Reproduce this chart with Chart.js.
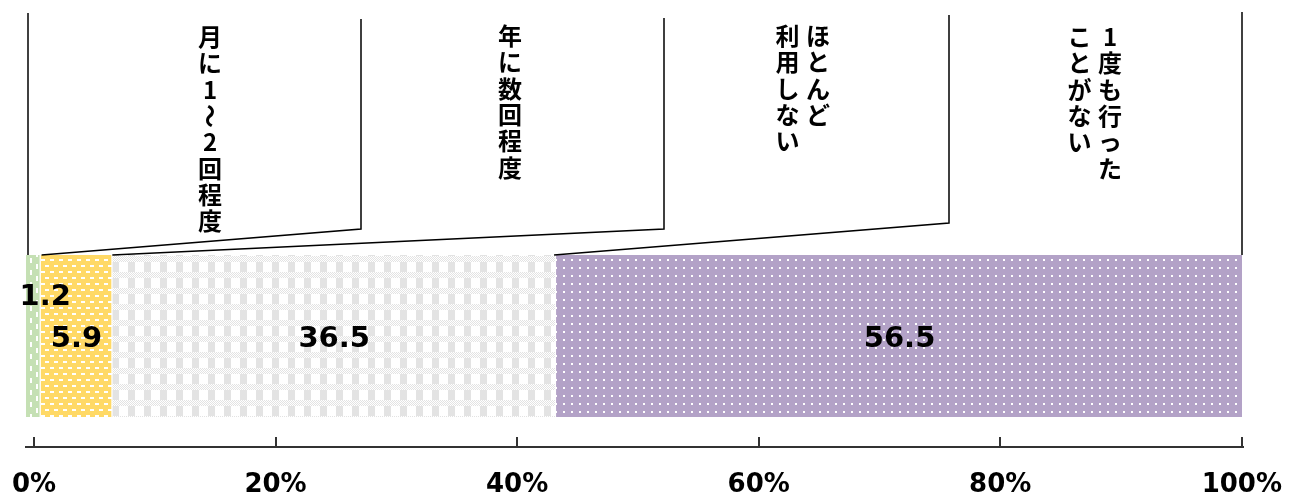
<!DOCTYPE html>
<html lang="ja">
<head>
<meta charset="utf-8">
<title>利用頻度</title>
<script src="https://cdn.jsdelivr.net/npm/chart.js@4.4.1/dist/chart.umd.min.js"></script>
<style>
  html, body { margin: 0; padding: 0; background: #fff; }
  #wrap { position: relative; width: 1301px; height: 498px; }
</style>
</head>
<body>
<div id="wrap"><canvas id="freqChart"></canvas></div>
<script>
/* -------------------- DATA -------------------- */
const categories = ["月に1～2回程度", "年に数回程度", "ほとんど利用しない", "1度も行ったことがない"];
const categoryColumns = [["月に1～2回程度"], ["年に数回程度"], ["ほとんど", "利用しない"], ["1度も行った", "ことがない"]];
const values = [1.2, 5.9, 36.5, 56.5];
const tickValues = [0, 20, 40, 60, 80, 100];

/* -------------------- LAYOUT -------------------- */
// leader lines: top of the bracket, knee, then down to the segment edge on the bar
const leaders = [
  { x: 28, top: 13, knee: 253, dx: 2 },
  { x: 361, top: 19, knee: 229, dx: 1 },
  { x: 664, top: 18, knee: 229, dx: 0 },
  { x: 949, top: 15, knee: 223, dx: -2 },
  { x: 1242, top: 12, knee: 253, dx: -1 }
];
const labelPos = [
  { x: 210, y: 37 },
  { x: 510, y: 36 },
  { x: 818, y: 36 },
  { x: 1110, y: 37 }
];
const CHAR_STEP = 26.3;
const COL_GAP = 30.5;
const valueOffsets = [{ dx: 12, dy: -39 }, { dx: 0, dy: 3 }, { dx: 0, dy: 3 }, { dx: 0, dy: 3 }];

/* -------------------- PATTERNS -------------------- */
function makePattern(w, h, paint) {
  const c = document.createElement("canvas");
  c.width = w; c.height = h;
  const g = c.getContext("2d");
  paint(g);
  return document.createElement("canvas").getContext("2d").createPattern(c, "repeat");
}

const greenPat = makePattern(12, 12, g => {
  g.fillStyle = "#C5E0B4"; g.fillRect(0, 0, 12, 12);
  g.fillStyle = "#fff";
  g.fillRect(0, 0, 2, 5);
  g.fillRect(6, 6, 2, 5);
});

const yellowPat = makePattern(9, 12, g => {
  g.fillStyle = "#FFD966"; g.fillRect(0, 0, 9, 12);
  g.fillStyle = "#fff";
  g.fillRect(0, 1, 4, 2);
  g.fillRect(5, 7, 4, 2);
});

const grayPat = makePattern(16, 16, g => {
  g.fillStyle = "#fff"; g.fillRect(0, 0, 16, 16);
  g.fillStyle = "#E3E3E3";
  g.fillRect(0, 6, 7, 10);
  for (let y = 0; y < 6; y++) {
    for (let x = 0; x < 16; x++) {
      if ((x + y) % 2 === 0) g.fillRect(x, y, 1, 1);
    }
  }
});

const purplePat = makePattern(8, 8, g => {
  g.fillStyle = "#B3A2C7"; g.fillRect(0, 0, 8, 8);
  g.fillStyle = "#fff";
  g.fillRect(3, 3, 2, 2);
});

const patterns = [greenPat, yellowPat, grayPat, purplePat];

/* -------------------- PLUGINS -------------------- */
const valueLabels = {
  id: "valueLabels",
  afterDatasetsDraw(chart) {
    const ctx = chart.ctx;
    ctx.save();
    ctx.font = "bold 29px 'DejaVu Sans'";
    ctx.fillStyle = "#000";
    ctx.textAlign = "center";
    ctx.textBaseline = "middle";
    values.forEach((v, i) => {
      const el = chart.getDatasetMeta(i).data[0];
      const off = valueOffsets[i];
      ctx.fillText(v.toFixed(1), (el.x + el.base) / 2 + off.dx, el.y + off.dy);
    });
    ctx.restore();
  }
};

const leaderLabels = {
  id: "leaderLabels",
  afterDraw(chart) {
    const ctx = chart.ctx;
    const xs = chart.scales.x;
    const bar = chart.getDatasetMeta(0).data[0];
    const barTop = bar.y - bar.height / 2;

    let sum = 0;
    const edges = [xs.getPixelForValue(0)];
    values.forEach(v => { sum += v; edges.push(xs.getPixelForValue(sum)); });

    ctx.save();
    ctx.strokeStyle = "#000";
    ctx.lineWidth = 1.5;
    leaders.forEach((l, i) => {
      ctx.beginPath();
      ctx.moveTo(l.x, l.top);
      ctx.lineTo(l.x, l.knee);
      ctx.lineTo(edges[i] + l.dx, barTop);
      ctx.stroke();
    });

    ctx.fillStyle = "#000";
    ctx.font = "bold 24px 'Noto Sans CJK JP'";
    ctx.textAlign = "center";
    ctx.textBaseline = "middle";
    categoryColumns.forEach((cols, i) => {
      const pos = labelPos[i];
      cols.forEach((line, c) => {
        const cx = pos.x - c * COL_GAP;
        Array.from(line).forEach((ch, k) => {
          const cy = pos.y + k * CHAR_STEP;
          if (ch === "～") {
            ctx.save();
            ctx.translate(cx, cy);
            ctx.rotate(Math.PI / 2);
            ctx.fillText(ch, 0, 0);
            ctx.restore();
          } else {
            ctx.fillText(ch, cx, cy);
          }
        });
      });
    });
    ctx.restore();
  }
};

/* -------------------- CHART -------------------- */
const ctx = document.getElementById("freqChart");
new Chart(ctx, {
  type: "bar",
  data: {
    labels: [""],
    datasets: categories.map((name, i) => ({
      label: name,
      data: [values[i]],
      backgroundColor: patterns[i],
      borderColor: "#fff",
      borderWidth: { top: 0, right: 1, bottom: 0, left: 0 },
      borderSkipped: false,
      categoryPercentage: 1,
      barPercentage: 0.73
    }))
  },
  options: {
    indexAxis: "y",
    responsive: true,
    maintainAspectRatio: false,
    animation: false,
    layout: { padding: { left: 26, right: 58, top: 225, bottom: 0 } },
    plugins: { legend: { display: false }, tooltip: { enabled: false } },
    scales: {
      x: { type: "linear", stacked: true, min: 0, max: 100.1, display: false },
      y: { type: "category", stacked: true, display: false },
      x2: {
        type: "linear",
        position: "bottom",
        min: -0.66,
        max: 100.1,
        afterBuildTicks: s => { s.ticks = tickValues.map(v => ({ value: v })); },
        afterFit: s => { s.height = 51; s.paddingLeft = 0; s.paddingRight = 0; },
        grid: { drawOnChartArea: false, tickLength: -10, color: "#333", lineWidth: 2 },
        border: { color: "#333", width: 2 },
        ticks: {
          padding: 35,
          color: "#000",
          autoSkip: false,
          maxRotation: 0,
          font: { family: "DejaVu Sans", weight: "bold", size: 26, lineHeight: 1 },
          callback: v => v + "%"
        }
      }
    }
  },
  plugins: [valueLabels, leaderLabels]
});
</script>
</body>
</html>
